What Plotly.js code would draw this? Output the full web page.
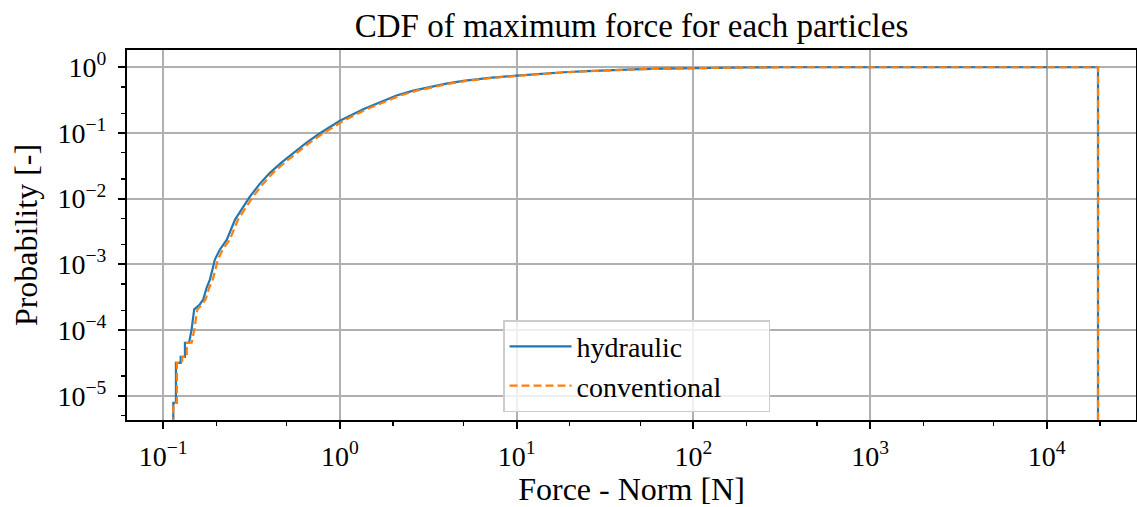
<!DOCTYPE html>
<html>
<head>
<meta charset="utf-8">
<script src="https://cdn.plot.ly/plotly-3.0.1.min.js"></script>
<style>html,body{margin:0;padding:0;background:#fff}#chart{width:1137px;height:507px}</style>
</head>
<body>
<div id="chart"></div>
<script>
// hydraulic CDF (force [N], probability)
const hydraulicForce = [0.114, 0.114, 0.118, 0.118, 0.1255, 0.1255, 0.1327, 0.1327, 0.140, 0.1448, 0.1497, 0.161, 0.1685, 0.176, 0.184, 0.196, 0.209, 0.229, 0.255, 0.28, 0.31, 0.35, 0.40, 0.47, 0.544, 0.65, 0.771, 1.0, 1.355, 1.68, 2.09, 2.6, 3.23, 4.0, 4.99, 7.0, 10, 14, 18.4, 25, 35.2, 50, 67.6, 100, 150, 200, 300, 19500, 19500];
const hydraulicProb  = [1e-6, 7.8e-6, 7.8e-6, 3.17e-5, 3.17e-5, 3.9e-5, 3.9e-5, 6.4e-5, 6.4e-5, 1.02e-4, 2.06e-4, 2.45e-4, 2.94e-4, 4.4e-4, 5.9e-4, 1.18e-3, 1.67e-3, 2.37e-3, 4.8e-3, 7.2e-3, 0.0108, 0.0165, 0.0245, 0.036, 0.0493, 0.072, 0.099, 0.153, 0.229, 0.295, 0.372, 0.44, 0.505, 0.565, 0.62, 0.69, 0.745, 0.80, 0.84, 0.875, 0.91, 0.935, 0.953, 0.972, 0.985, 0.993, 1.0, 1.0, 1e-6];
// conventional CDF
const conventionalForce = [0.114, 0.114, 0.1195, 0.1195, 0.128, 0.128, 0.136, 0.136, 0.145, 0.150, 0.156, 0.166, 0.174, 0.182, 0.191, 0.204, 0.217, 0.238, 0.265, 0.291, 0.323, 0.365, 0.417, 0.49, 0.567, 0.678, 0.805, 1.045, 1.415, 1.755, 2.19, 2.72, 3.38, 4.18, 5.22, 7.3, 10.45, 14.6, 19.2, 26, 36.8, 52, 70.5, 104, 156, 208, 310, 19500, 19500];
const conventionalProb  = [1e-6, 7.8e-6, 7.8e-6, 3.17e-5, 3.17e-5, 3.9e-5, 3.9e-5, 6.4e-5, 6.4e-5, 1.02e-4, 2.06e-4, 2.45e-4, 2.94e-4, 4.4e-4, 5.9e-4, 1.18e-3, 1.67e-3, 2.37e-3, 4.8e-3, 7.2e-3, 0.0108, 0.0165, 0.0245, 0.036, 0.0493, 0.072, 0.099, 0.153, 0.229, 0.295, 0.372, 0.44, 0.505, 0.565, 0.62, 0.69, 0.745, 0.80, 0.84, 0.875, 0.91, 0.935, 0.953, 0.972, 0.985, 0.993, 1.0, 1.0, 1e-6];

const xTickVals = [0.1, 1, 10, 100, 1000, 10000];
const xTickText = ['10<sup>−1</sup>', '10<sup>0</sup>', '10<sup>1</sup>', '10<sup>2</sup>', '10<sup>3</sup>', '10<sup>4</sup>'];
const yTickVals = [1e-5, 1e-4, 1e-3, 1e-2, 1e-1, 1];
const yTickText = ['10<sup>−5</sup>', '10<sup>−4</sup>', '10<sup>−3</sup>', '10<sup>−2</sup>', '10<sup>−1</sup>', '10<sup>0</sup>'];

const FONT = 'Liberation Serif, serif';

const traces = [
  {x: hydraulicForce, y: hydraulicProb, type: 'scatter', mode: 'lines', name: 'hydraulic\u00a0\u00a0\u00a0\u00a0\u00a0\u00a0',
   line: {color: '#1f77b4', width: 2.2}},
  {x: conventionalForce, y: conventionalProb, type: 'scatter', mode: 'lines', name: 'conventional\u00a0\u00a0\u00a0\u00a0\u00a0\u00a0',
   line: {color: '#ff7f0e', width: 2.2, dash: '8px,4px'}}
];

const axisCommon = {
  type: 'log', showline: true, linecolor: 'black', linewidth: 2, mirror: true,
  ticks: 'outside', ticklen: 7, tickwidth: 2, tickcolor: 'black',
  showgrid: true, gridcolor: '#b0b0b0', gridwidth: 2, zeroline: false,
  tickfont: {family: FONT, size: 28, color: 'black'},
  minor: {ticks: 'outside', ticklen: 4, tickwidth: 1.3, tickcolor: 'black', showgrid: false}
};

const layout = {
  width: 1137, height: 507,
  margin: {l: 127, r: 1, t: 50, b: 87},
  paper_bgcolor: 'white', plot_bgcolor: 'white',
  font: {family: FONT, color: 'black'},
  title: {text: 'CDF of maximum force for each particles', xref: 'paper', x: 0.5, xanchor: 'center', y: 0.95, yanchor: 'middle',
          font: {family: FONT, size: 33, color: 'black'}},
  xaxis: Object.assign({}, axisCommon, {
    range: [-1.205, 4.505], tickmode: 'array', tickvals: xTickVals, ticktext: xTickText,
    ticklabelstandoff: 3,
    title: {text: 'Force - Norm [N]', font: {family: FONT, size: 32, color: 'black'}, standoff: 9}
  }),
  yaxis: Object.assign({}, axisCommon, {
    range: [-5.37, 0.263], tickmode: 'array', tickvals: yTickVals, ticktext: yTickText,
    ticklabelstandoff: 6,
    title: {text: 'Probability [-]', font: {family: FONT, size: 32, color: 'black'}, standoff: 10}
  }),
  showlegend: true,
  legend: {x: 0.3727, y: 0.27, xanchor: 'left', yanchor: 'top',
           bgcolor: 'rgba(255,255,255,0.8)', bordercolor: '#cccccc', borderwidth: 1.5,
           font: {family: FONT, size: 28, color: 'black'}, tracegroupgap: 0, itemwidth: 62}
};

Plotly.newPlot('chart', traces, layout, {displayModeBar: false, staticPlot: true});
</script>
</body>
</html>
